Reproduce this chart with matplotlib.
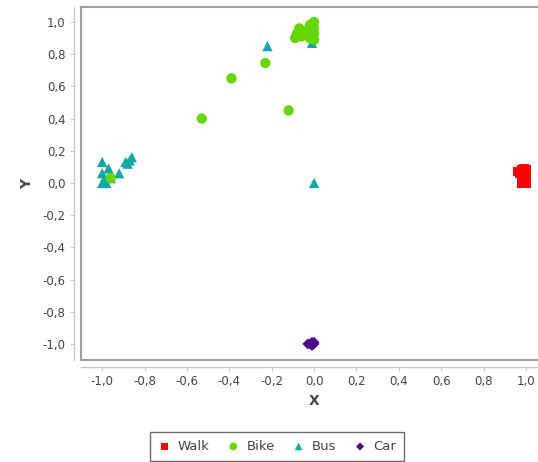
import matplotlib
matplotlib.use('Agg')
import matplotlib.pyplot as plt
from matplotlib.lines import Line2D
from matplotlib.ticker import FuncFormatter

# Data
walk_x = [0.97, 0.98, 0.99, 1.00, 0.99, 1.00, 0.98, 1.00, 0.99, 0.96, 0.98]
walk_y = [0.06, 0.08, 0.09, 0.08, 0.03, 0.00, 0.00, 0.05, 0.06, 0.07, 0.04]

bike_x = [-0.96, -0.53, -0.39, -0.23, -0.12,
          -0.08, -0.07, -0.06, -0.09, -0.03, -0.02, 0.00, -0.01, 0.00,
          -0.02, 0.00, -0.05, -0.01, 0.00]
bike_y = [0.03, 0.40, 0.65, 0.745, 0.45,
          0.93, 0.96, 0.91, 0.90, 0.95, 0.98, 1.00, 0.97, 0.93,
          0.90, 0.89, 0.93, 0.99, 0.96]

bus_x = [-0.22, 0.00, -0.01, -1.00, -1.00, -1.00, -0.97, -0.92, -0.89,
         -0.87, -0.86, -0.88, -0.98, -0.99, -0.96]
bus_y = [0.85, 0.00, 0.87, 0.13, 0.00, 0.06, 0.09, 0.06, 0.13,
         0.14, 0.16, 0.12, 0.00, 0.02, 0.03]

car_x = [-0.02, 0.00, -0.01, -0.01, 0.00, -0.03]
car_y = [-1.00, -1.00, -0.99, -1.01, -0.99, -1.00]

ticks = [-1.0, -0.8, -0.6, -0.4, -0.2, 0.0, 0.2, 0.4, 0.6, 0.8, 1.0]

fig = plt.figure(figsize=(5.38, 4.62), dpi=100)
ax = fig.add_axes([81/538, 1-360/462, (548-81)/538, (360-7)/462])

ax.scatter(car_x, car_y, marker='D', s=30, color='#4b0a8c', edgecolors='none', zorder=2, label='Car')
ax.scatter(bus_x, bus_y, marker='^', s=55, color='#10a8a8', edgecolors='none', zorder=3, label='Bus')
ax.scatter(bike_x, bike_y, marker='o', s=55, color='#66d600', edgecolors='none', zorder=4, label='Bike')
ax.scatter(walk_x, walk_y, marker='s', s=45, color='#ff0000', edgecolors='none', zorder=5, label='Walk')

ax.set_xlim(-1.10, (548-314)/212)
ax.set_ylim(-1.10, 1.093)
ax.set_xticks(ticks)
ax.set_yticks(ticks)
fmt = FuncFormatter(lambda v, p: ('%.1f' % v).replace('.', ',').replace('-0,0', '0,0'))
ax.xaxis.set_major_formatter(fmt)
ax.yaxis.set_major_formatter(fmt)

# plot outline: top edge plus left/bottom box lines, right edge runs off the image
ax.spines['right'].set_visible(False)
ax.spines['top'].set_color('#a0a0a0')
ax.spines['top'].set_linewidth(1.5)
for s in ['left', 'bottom']:
    ax.spines[s].set_position(('outward', 5))
    ax.spines[s].set_color('#c8c8c8')
    ax.spines[s].set_linewidth(1.0)
ax.add_line(Line2D([0, 0], [0, 1], transform=ax.transAxes, color='#a0a0a0',
                   linewidth=1.5, clip_on=False, zorder=6))
ax.add_line(Line2D([0, 1], [0, 0], transform=ax.transAxes, color='#a0a0a0',
                   linewidth=1.5, clip_on=False, zorder=6))

ax.tick_params(axis='both', length=3, width=0.8, color='#c8c8c8',
               labelsize=8.5, labelcolor='#444444', pad=3)

ax.set_xlabel('X', fontsize=10, fontweight='bold', color='#444444', labelpad=4)
ax.set_ylabel('Y', fontsize=10, fontweight='bold', color='#444444', labelpad=6)

h, l = ax.get_legend_handles_labels()
order = [3, 2, 1, 0]
leg = fig.legend([h[i] for i in order], [l[i] for i in order], loc='upper center',
                 bbox_to_anchor=(277/538, 1-432/462), ncol=4, fancybox=False,
                 edgecolor='#444444', fontsize=9.5, handletextpad=0.5,
                 columnspacing=1.3, handlelength=1.0, borderpad=0.6,
                 markerscale=0.75, borderaxespad=0)
leg.get_frame().set_linewidth(1.0)
for t in leg.get_texts():
    t.set_color('#444444')

fig.savefig('out.png', dpi=100)
